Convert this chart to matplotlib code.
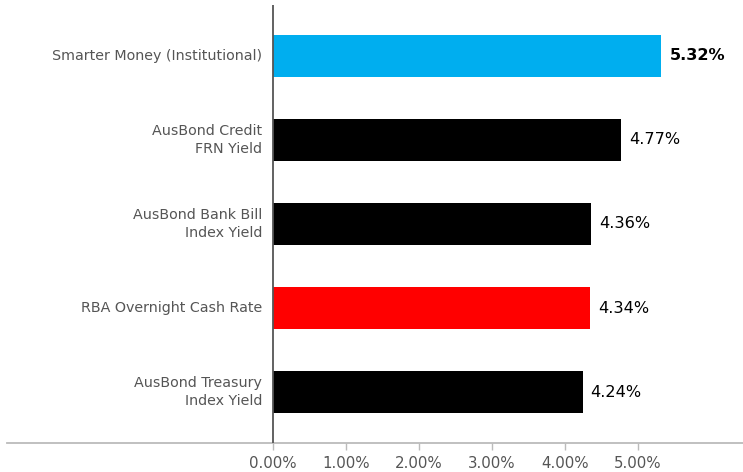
import matplotlib.pyplot as plt

plt.rcParams["font.family"] = ["DejaVu Sans"]

labels = ["Smarter Money (Institutional)", "AusBond Credit\nFRN Yield",
          "AusBond Bank Bill\nIndex Yield", "RBA Overnight Cash Rate",
          "AusBond Treasury\nIndex Yield"]
values = [5.32, 4.77, 4.36, 4.34, 4.24]
colors = ["#00aeef", "#000000", "#000000", "#ff0000", "#000000"]
ticks = [0, 1, 2, 3, 4, 5]

fig = plt.figure(figsize=(7.43, 4.72), dpi=100)
ax = fig.add_axes([7 / 743, 1 - 443 / 472, 736 / 743, 438 / 472])

y = list(range(len(values)))
ax.barh(y, values, height=0.51, color=colors, zorder=2)
ax.set_ylim(4.607, -0.607)
ax.set_xlim(-3.644, 6.438)

# y axis line at zero
ax.axvline(0, color="#555555", lw=1.3, zorder=3)

for yi, v, lab in zip(y, values, labels):
    ax.text(v + 0.11, yi, f"{v:.2f}%", va="center", ha="left",
            fontsize=11.6, color="#000000",
            fontweight="bold" if yi == 0 else "normal")
    ax.text(-0.15, yi, lab, va="center", ha="right", fontsize=10.3,
            color="#555555", multialignment="right", linespacing=1.3)

ax.set_yticks([])
ax.set_xticks(ticks)
ax.set_xticklabels([f"{t:.2f}%" for t in ticks])
ax.tick_params(axis="x", colors="#bbbbbb", labelcolor="#555555",
               labelsize=10.8, length=5, width=1, pad=4)

for s in ["top", "right", "left"]:
    ax.spines[s].set_visible(False)
ax.spines["bottom"].set_color("#bbbbbb")
ax.spines["bottom"].set_linewidth(1.3)

fig.savefig("out.png", dpi=100)
